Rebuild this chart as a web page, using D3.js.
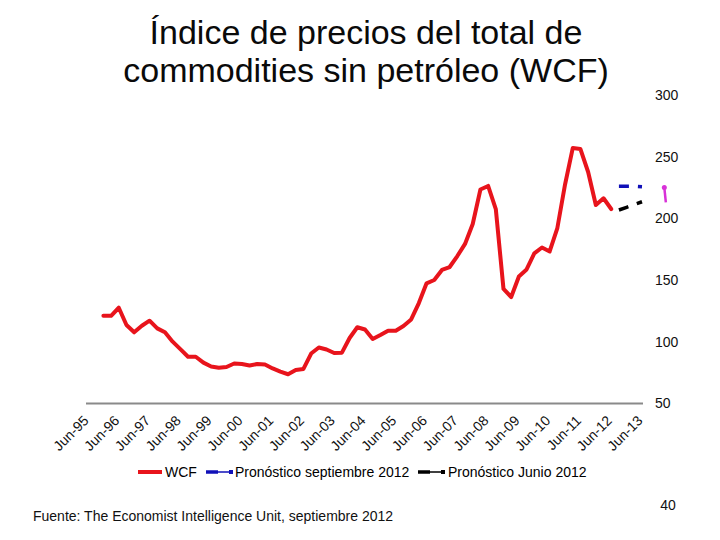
<!DOCTYPE html>
<html>
<head>
<meta charset="utf-8">
<script src="https://cdn.jsdelivr.net/npm/d3@7/dist/d3.min.js"></script>
<style>
  html, body { margin: 0; padding: 0; background: #fff; }
  svg { display: block; font-family: "Liberation Sans", Arial, sans-serif; }
</style>
</head>
<body>
<svg id="chart" width="720" height="540"></svg>
<script>
// ---------- data ----------
const titleLines = ["Índice de precios del total de", "commodities sin petróleo (WCF)"];
// quarterly index: 0 = Jun-95, 4 = Jun-96, ... 72 = Jun-13
const tickLabels = ["Jun-95","Jun-96","Jun-97","Jun-98","Jun-99","Jun-00","Jun-01","Jun-02","Jun-03",
  "Jun-04","Jun-05","Jun-06","Jun-07","Jun-08","Jun-09","Jun-10","Jun-11","Jun-12","Jun-13"];
const tickIndex = [0,4,8,12,16,20,24,28,32,36,40,44,48,52,56,60,64,68,72];
const yTicks = [50,100,150,200,250,300];

// WCF, quarterly from Dec-95 (index 2) to Jun-12 (index 68)
const wcfStartIndex = 2;
const wcfValues = [121.1,121.1,127.6,113.6,107.7,113.0,117.1,110.9,107.7,100.1,94.1,87.9,87.9,83.1,
  80.0,79.0,79.6,82.4,82.0,80.8,82.0,81.6,78.4,75.8,73.7,77.1,78.0,90.5,95.4,93.8,90.9,91.2,
  103.1,111.8,110.0,102.3,105.5,109.0,109.0,112.8,118.1,131.4,147.4,150.1,158.2,160.6,169.5,
  179.3,195.5,223.4,226.3,207.6,142.8,136.3,152.9,158.6,171.6,176.4,173.2,192.2,227.5,257.0,
  256.2,237.6,210.9,216.3,207.6];

// forecasts Sep-12 .. Jun-13
const forecastIndex = [69,70,71,72];
const forecastSep = [226,226,226,225.6];
const forecastJun = [206.8,209,211.3,213.5];

// stray magenta mark
const magentaIndex = [74.9,75.1];
const magentaValues = [225,213];

const legendItems = ["WCF","Pronóstico septiembre 2012","Pronóstico Junio 2012"];
const sourceText = "Fuente: The Economist Intelligence Unit, septiembre 2012";
const pageNumber = "40";

// ---------- drawing ----------
const svg = d3.select("#chart");
const red = "#e8141c", blue = "#1010b8", black = "#000000", magenta = "#d832d8";

const x = d3.scaleLinear().domain([0,72]).range([88,642]);
const y = d3.scaleLinear().domain([50,300]).range([403.5,95]);

// title
svg.append("g").selectAll("text").data(titleLines).join("text")
  .attr("x", 366).attr("y", (d,i) => 44 + i*38)
  .attr("text-anchor","middle")
  .attr("font-size", 34).attr("fill","#0a0a0a")
  .text(d => d);

// y axis (right side, labels only)
const yAxis = d3.axisRight(y).tickValues(yTicks).tickSize(0).tickPadding(0);
const gy = svg.append("g").attr("transform","translate(655,0)").call(yAxis);
gy.select(".domain").remove();
gy.selectAll("text").attr("font-size",14).attr("fill","#111")
  .attr("font-family","Liberation Sans, Arial, sans-serif");

// x axis
const xAxis = d3.axisBottom(x).tickValues(tickIndex).tickSize(0)
  .tickFormat((d,i) => tickLabels[i]);
const gx = svg.append("g").attr("transform", `translate(0,${y(50)})`).call(xAxis);
gx.select(".domain").remove();
gx.append("line").attr("x1",86).attr("x2",643).attr("y1",0).attr("y2",0)
  .attr("stroke","#8a8a8a").attr("stroke-width",2);
gx.selectAll(".tick text")
  .attr("font-size",14).attr("fill","#111")
  .attr("font-family","Liberation Sans, Arial, sans-serif")
  .attr("text-anchor","end")
  .attr("dy",0).attr("y",0)
  .attr("transform","translate(1,18) rotate(-45)");

// lines
const lineGen = d3.line().x(d => x(d[0])).y(d => y(d[1]));
const wcfData = wcfValues.map((v,i) => [wcfStartIndex + i, v]);
svg.append("path").datum(wcfData).attr("d", lineGen)
  .attr("fill","none").attr("stroke",red).attr("stroke-width",4)
  .attr("stroke-linejoin","round").attr("stroke-linecap","round");

const sepData = forecastIndex.map((d,i) => [d, forecastSep[i]]);
const junData = forecastIndex.map((d,i) => [d, forecastJun[i]]);
[[sepData, blue],[junData, black]].forEach(([data, col]) => {
  svg.append("path").datum(data).attr("d", lineGen)
    .attr("fill","none").attr("stroke",col).attr("stroke-width",3.5)
    .attr("stroke-dasharray","10,9");
});

const magData = magentaIndex.map((d,i) => [d, magentaValues[i]]);
svg.append("path").datum(magData).attr("d", lineGen)
  .attr("fill","none").attr("stroke",magenta).attr("stroke-width",2.5);
svg.append("circle").attr("cx", x(magData[0][0])).attr("cy", y(magData[0][1])).attr("r",2.5)
  .attr("fill",magenta);

// legend
const lg = svg.append("g").attr("transform","translate(0,472)");
lg.append("line").attr("x1",138).attr("x2",162).attr("y1",0).attr("y2",0)
  .attr("stroke",red).attr("stroke-width",4);
lg.append("text").attr("x",165).attr("y",5).attr("font-size",14).text(legendItems[0]);
[[206, blue, 235, legendItems[1]],[418, black, 448, legendItems[2]]].forEach(([x0,col,tx,label]) => {
  lg.append("line").attr("x1",x0).attr("x2",x0+12).attr("y1",0).attr("y2",0)
    .attr("stroke",col).attr("stroke-width",3.5);
  lg.append("line").attr("x1",x0+12).attr("x2",x0+24).attr("y1",0).attr("y2",0)
    .attr("stroke",col).attr("stroke-width",1.5);
  lg.append("rect").attr("x",x0+23).attr("y",-2).attr("width",4).attr("height",4).attr("fill",col);
  lg.append("text").attr("x",tx).attr("y",5).attr("font-size",14).text(label);
});

// source + page number
svg.append("text").attr("x",33).attr("y",521).attr("font-size",14).attr("fill","#111").text(sourceText);
svg.append("text").attr("x",668).attr("y",510).attr("text-anchor","middle").attr("font-size",14).attr("fill","#111").text(pageNumber);
</script>
</body>
</html>
